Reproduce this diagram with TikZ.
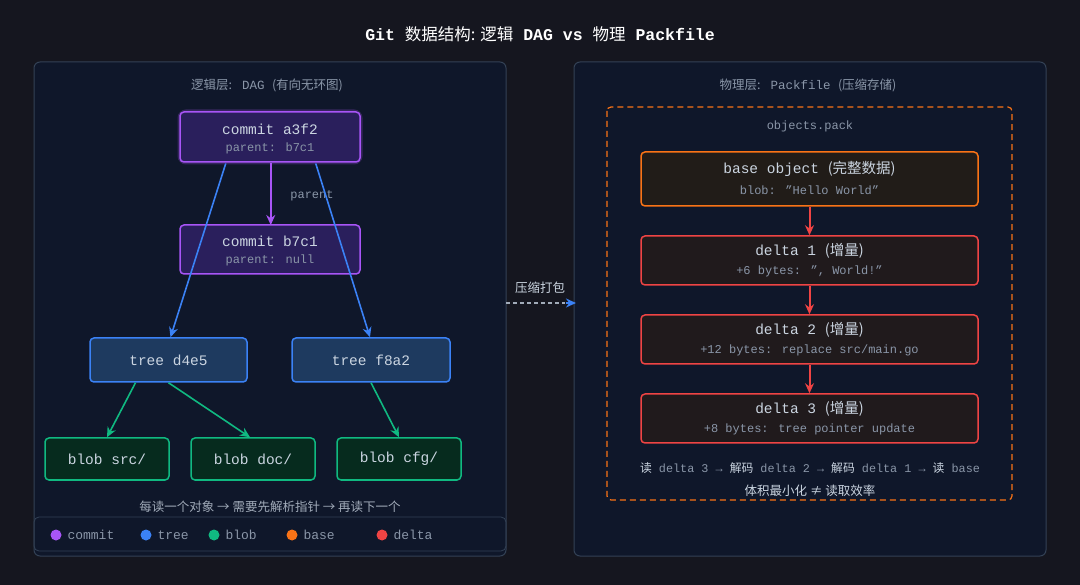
\documentclass[tikz,border=0pt]{standalone}
\usepackage{fontspec}
\setmainfont{Liberation Mono}
\newfontfamily\cjk{Noto Sans CJK SC}
\usetikzlibrary{arrows.meta}
\definecolor{bgc}{HTML}{15161F}
\definecolor{panel}{HTML}{0F172A}
\definecolor{pborder}{HTML}{334155}
\definecolor{txt}{HTML}{CBD5E1}
\definecolor{sub}{HTML}{8A96A8}
\definecolor{cpur}{HTML}{A855F7}\definecolor{cpurf}{HTML}{2A1F5C}
\definecolor{cblu}{HTML}{3B82F6}\definecolor{cbluf}{HTML}{1E3A5F}
\definecolor{cgrn}{HTML}{10B981}\definecolor{cgrnf}{HTML}{062B1E}
\definecolor{cora}{HTML}{F97316}\definecolor{coraf}{HTML}{211C18}
\definecolor{cred}{HTML}{EF4444}\definecolor{credf}{HTML}{201A1C}
\tikzset{
 box/.style={draw, rounded corners=4pt, line width=1.5pt, inner sep=0pt, anchor=north west},
 t1/.style={text=txt, font=\fontsize{14.5}{16}\selectfont},
 t2/.style={text=sub, font=\fontsize{12}{14}\selectfont},
 arr/.style={-{Stealth[length=10pt,width=9pt]}, line width=1.6pt},
 dot/.style={circle, inner sep=0pt, minimum size=11pt},
 lg/.style={text=sub, font=\fontsize{13}{15}\selectfont, anchor=west},
}
\begin{document}
\begin{tikzpicture}[x=1pt,y=-1pt]
\fill[bgc] (0,0) rectangle (1080,585);
\useasboundingbox (0,0) rectangle (1080,585);
\node[text=white, font=\bfseries\fontsize{16.5}{18}\selectfont] (title) at (540,34) {Git {\cjk\mdseries 数据结构: 逻辑} DAG vs {\cjk\mdseries 物理} Packfile};
% panels
\draw[pborder, fill=panel, rounded corners=6pt, line width=1pt] (34,62) rectangle (506,556);
\draw[pborder, fill=panel, rounded corners=6pt, line width=1pt] (574,62) rectangle (1046,556);
\node[t2, font=\fontsize{12.5}{14}\selectfont] (ll) at (267,85) {{\cjk 逻辑层:} DAG {\cjk (有向无环图)}};
\node[t2, font=\fontsize{12.5}{14}\selectfont] (rl) at (808,85) {{\cjk 物理层:} Packfile {\cjk (压缩存储)}};
% commits
\draw[cpur, line width=5pt, opacity=0.25, rounded corners=6pt] (180,112) rectangle (360,162);
\draw[box, cpur, fill=cpurf] (180,112) rectangle (360,162);
\node[box, draw=none, minimum width=180pt, minimum height=50pt] (ca) at (180,112) {};
\node[t1] at (270,129) {commit a3f2};
\node[t2] at (270,148) {parent: b7c1};
\draw[box, cpur, fill=cpurf] (180,225) rectangle (360,274);
\node[box, draw=none, minimum width=180pt, minimum height=49pt] (cb) at (180,225) {};
\node[t1] at (270,241) {commit b7c1};
\node[t2] at (270,260) {parent: null};
% trees
\node[box, cblu, fill=cbluf, minimum width=157pt, minimum height=44pt, anchor=center, t1] (td) at (168.5,360) {tree d4e5};
\node[box, cblu, fill=cbluf, minimum width=158pt, minimum height=44pt, anchor=center, t1] (tf) at (371,360) {tree f8a2};
% blobs
\node[box, cgrn, fill=cgrnf, minimum width=124pt, minimum height=42pt, anchor=center, t1] (bs) at (107,459) {blob src/};
\node[box, cgrn, fill=cgrnf, minimum width=124pt, minimum height=42pt, anchor=center, t1] (bd) at (253,459) {blob doc/};
\node[box, cgrn, fill=cgrnf, minimum width=124pt, minimum height=42pt, anchor=center, t1] (bc) at (399,459) {blob cfg/};
% arrows
\draw[arr, cpur] (ca.south) -- (cb.north);
\node[t2] (pl) at (312,196) {parent};
\draw[arr, cblu] ([xshift=-45pt]ca.south) -- ([xshift=2pt]td.north);
\draw[arr, cblu] ([xshift=45pt]ca.south) -- ([xshift=-1pt]tf.north);
\draw[arr, cgrn] ([xshift=-33pt]td.south) -- (bs.north);
\draw[arr, cgrn] (td.south) -- ([xshift=-3pt]bd.north);
\draw[arr, cgrn] (tf.south) -- (bc.north);
\node[text=sub!80!white, font=\cjk\fontsize{12.5}{14}\selectfont] (cap) at (270,507) {每读一个对象 → 需要先解析指针 → 再读下一个};
% legend
\draw[pborder, rounded corners=5pt, line width=0.8pt] (34,517) rectangle (506,551);
\node[dot, fill=cpur] (d1) at (56,535) {}; \node[lg] at (64,535) {commit};
\node[dot, fill=cblu] (d2) at (146,535) {}; \node[lg] at (154,535) {tree};
\node[dot, fill=cgrn] (d3) at (214,535) {}; \node[lg] at (222,535) {blob};
\node[dot, fill=cora] (d4) at (292,535) {}; \node[lg] at (300,535) {base};
\node[dot, fill=cred] (d5) at (382,535) {}; \node[lg] at (390,535) {delta};
% middle
\coordinate (ms) at (506,303); \coordinate (me) at (576,303);
\draw[line width=1.5pt, dash pattern=on 4pt off 3pt, sub!80!white] (ms) -- (565,303);
\draw[cblu, -{Stealth[length=10pt,width=9pt]}, line width=1.5pt] (566,303) -- (me);
\node[text=txt, font=\cjk\fontsize{12.5}{14}\selectfont] (ml) at (540,288) {压缩打包};
% right
\draw[cora, line width=1.2pt, rounded corners=4pt, dash pattern=on 6pt off 4pt] (607,107) rectangle (1012,500);
\node[t2] (op) at (810,126) {objects.pack};
\node[box, cora, fill=coraf, minimum width=337pt, minimum height=54pt, anchor=center] (b0) at (809.5,179) {};
\node[t1] at (809.5,169) {base object {\cjk (完整数据)}};
\node[t2] at (809.5,190) {blob: "Hello World"};
\node[box, cred, fill=credf, minimum width=337pt, minimum height=49pt, anchor=center] (b1) at (809.5,260.5) {};
\node[t1] at (809.5,251) {delta 1 {\cjk (增量)}};
\node[t2] at (809.5,271) {+6 bytes: ", World!"};
\node[box, cred, fill=credf, minimum width=337pt, minimum height=49pt, anchor=center] (b2) at (809.5,339.5) {};
\node[t1] at (809.5,330) {delta 2 {\cjk (增量)}};
\node[t2] at (809.5,350) {+12 bytes: replace src/main.go};
\node[box, cred, fill=credf, minimum width=337pt, minimum height=49pt, anchor=center] (b3) at (809.5,418.5) {};
\node[t1] at (809.5,409) {delta 3 {\cjk (增量)}};
\node[t2] at (809.5,429) {+8 bytes: tree pointer update};
\draw[arr, cred, line width=2pt] (b0.south) -- (b1.north);
\draw[arr, cred, line width=2pt] (b1.south) -- (b2.north);
\draw[arr, cred, line width=2pt] (b2.south) -- (b3.north);
\node[t2, font=\fontsize{11.8}{14}\selectfont] (r1) at (810,468) {{\cjk\color{txt}读} delta 3 → {\cjk\color{txt}解码} delta 2 → {\cjk\color{txt}解码} delta 1 → {\cjk\color{txt}读} base};
\node[text=txt, font=\cjk\fontsize{12.5}{14}\selectfont] (r2) at (810,491) {体积最小化 ≠ 读取效率};
\end{tikzpicture}
\end{document}
